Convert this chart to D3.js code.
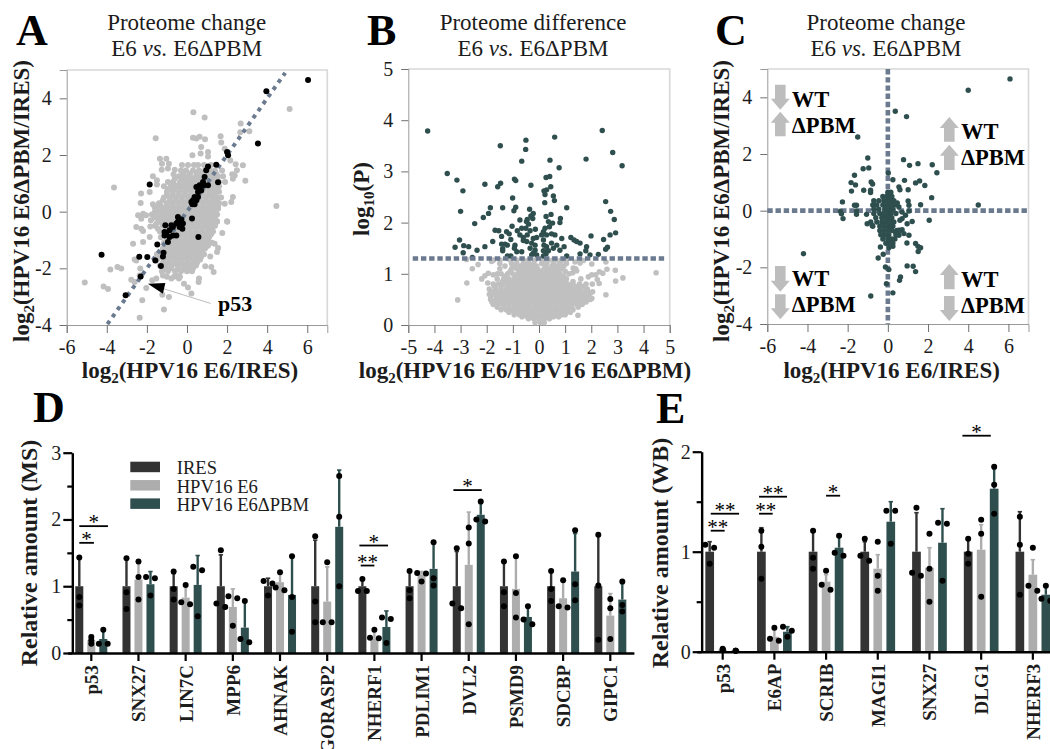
<!doctype html>
<html lang="en">
<head>
<meta charset="UTF-8" />
<title>Proteome change E6 vs. E6ΔPBM</title>
<script src="https://cdn.jsdelivr.net/npm/d3@7"></script>
<style>
  html, body { margin: 0; padding: 0; background: #fff; }
  svg { display: block; font-family: "Liberation Serif", serif; }
</style>
</head>
<body>
<svg id="fig" width="1050" height="749" viewBox="0 0 1050 749"></svg>
<script>
// panel A, [x, y] pairs
var greyOutA = [[.32,3.51],[.88,3.32],[5.12,3.62],[2.68,3.11],[3.11,2.84],[2.66,2.8],[-1.56,2.59],[.3,2.61],[.47,2.58],[.63,2.64],[.9,2.56],[1.68,2.66],[1.71,2.44],[.71,2.28],[1.88,2.22],[.27,1.99],[1.05,2.11],[1.05,1.95],[.68,2.05],[-3.64,.85],[4.46,.2],[2.91,1.09],[2.79,1.64],[2.43,1.67],[2.16,1.81],[-1.35,1.87],[-1.03,1.87],[-1.25,1.69],[-.9,1.69],[-1.26,1.48],[-.95,1.52],[-.61,1.48],[-.67,1.32],[-.61,1.16],[-1.7,1.25],[-1.5,1.11],[-1.5,.96],[-2.29,.64],[-1.86,.69],[-2.31,.31],[-1.7,.26],[-1.61,.16],[-2.44,-.13],[-2.19,-.07],[-2.28,-.25],[-2.04,-.13],[-2.53,-.54],[-2.28,-.6],[2.29,.52],[2.21,.34],[1.88,.28],[1.5,.4],[1.55,.16],[2.01,-.36],[1.5,-.36],[2.38,1.28],[2.49,1.46],[2.29,1.16],[2.26,1.32],[-2.69,-1.13],[-2.19,-.68],[-1.83,-.52],[-1.86,-.89],[-2.19,-1.07],[-2.53,-1.72],[-2.61,-1.69],[-2.33,-2.01],[-3.82,-2.04],[-3.47,-1.95],[-3.28,-2.01],[-2.78,-2.4],[-2.61,-2.48],[-4.16,-2.64],[-3.94,-2.73],[-5.1,-2.5],[-2.23,-3.13],[-1.15,-3.45],[-2.36,-3.74],[-.9,-3.01],[-1.23,-2.93],[.22,-2.89],[.05,-2.68],[-.15,-2.54],[.58,-2.48],[.6,-2.36],[.91,-1.93],[1.21,-1.95],[1.33,-2.13],[1.16,-1.58],[1.38,-1.13],[1.5,-1.42],[1.55,-1.28],[1.76,-.75],[1.5,-.34],[2,-.34],[-2.03,-2.69],[-1.53,-2.36],[-1.73,-2.42],[-2.36,-2.25],[-.78,-2.36],[-1.2,-2.25],[-.53,-2.25],[-.4,-2.36],[0,-2.07],[.13,-2.01]];
var greyRowsA = [
  [1.65,[-.25,.05,.35,.55,.85,1.2]],
  [1.45,[-.3,-.05,.3,.6,.9,1.15,1.4,1.75]],
  [1.35,[-.2,.15,.5,.8,1.1,1.45]],
  [1.25,[-.4,-.1,.15,.45,.7,1,1.25,1.55,1.8]],
  [1.15,[-.25,.05,.35,.65,.95,1.25,1.5]],
  [1.05,[-.95,-.7,-.35,-.05,.25,.55,.8,1.1,1.35,1.6,1.9]],
  [.97,[-.65,-.35,-.05,.25,.55,.85,1.15,1.45]],
  [.9,[-1.15,-.8,-.5,-.2,.1,.4,.7,1,1.3,1.6]],
  [.8,[-.95,-.65,-.35,-.05,.25,.55,.85,1.15,1.45]],
  [.7,[-1,-.7,-.4,-.1,.2,.5,.8,1.1,1.35,1.6]],
  [.6,[-1,-.7,-.4,-.1,.2,.5,.8,1.1,1.4]],
  [.5,[-1.15,-.85,-.55,-.25,.05,.35,.65,.95,1.25,1.5,1.7]],
  [.4,[-1.2,-.85,-.55,-.25,.05,.35,.65,.95,1.25,1.5]],
  [.3,[-1.4,-1,-.7,-.4,-.1,.2,.5,.8,1.1,1.35,1.6]],
  [.2,[-1.3,-1,-.7,-.4,-.1,.2,.5,.8,1.1,1.4]],
  [.1,[-1.5,-1.15,-.85,-.55,-.25,.05,.35,.65,.95,1.25,1.55]],
  [0,[-1.6,-1.3,-1,-.7,-.4,-.1,.2,.5,.8,1.1,1.4]],
  [-.1,[-1.75,-1.45,-1.15,-.85,-.55,-.25,.05,.35,.65,.95,1.25,1.5]],
  [-.2,[-1.6,-1.3,-1,-.7,-.4,-.1,.2,.5,.8,1.1,1.4]],
  [-.3,[-1.8,-1.4,-1.1,-.8,-.5,-.2,.1,.4,.7,1,1.3]],
  [-.4,[-1.5,-1.25,-.95,-.65,-.35,-.05,.25,.55,.85,1.15]],
  [-.5,[-1.6,-1.2,-.9,-.6,-.3,0,.3,.6,.9,1.15,1.4]],
  [-.6,[-1.45,-1.05,-.75,-.45,-.15,.15,.45,.75,1.05,1.25]],
  [-.7,[-1.35,-1.05,-.75,-.45,-.15,.15,.45,.75,1.05,1.3]],
  [-.8,[-1.15,-.85,-.55,-.25,.05,.35,.65,.95,1.2]],
  [-.9,[-1.3,-.95,-.65,-.35,-.05,.25,.55,.85,1.1]],
  [-1,[-1,-.7,-.4,-.1,.2,.5,.8,1.05]],
  [-1.1,[-1.15,-.85,-.55,-.25,.05,.35,.65,.95,1.25]],
  [-1.2,[-1,-.75,-.45,-.15,.15,.45,.75,1.05]],
  [-1.3,[-1.2,-.9,-.6,-.3,0,.3,.6,.9]],
  [-1.4,[-1.05,-.75,-.45,-.15,.15,.45,.75]],
  [-1.5,[-1.5,-1.2,-.9,-.6,-.3,0,.3,.6,.85]],
  [-1.6,[-1.3,-1,-.7,-.4,-.1,.2,.5,.7]],
  [-1.7,[-1.5,-1.15,-.85,-.55,-.25,.05,.35,.65]],
  [-1.8,[-1.2,-.9,-.6,-.3,0,.3,.5]],
  [-1.9,[-1.35,-1.05,-.75,-.45,-.15,.15,.45]],
  [-2,[-1.1,-.8,-.45,-.15,.1,.3]],
  [-2.1,[-1.25,-.95,-.6,-.3,0,.25]],
  [-2.3,[-1,-.65,-.35]]
];
var blackA = [[6.04,4.65],[3.96,4.25],[3.54,2.41],[2,2.11],[2.05,1.99],[1.46,1.66],[1.55,1.04],[1.05,1.59],[.96,1.46],[.88,1.22],[.8,1.05],[1.05,.93],[.63,.93],[.47,.87],[.83,.93],[.71,.75],[.55,.69],[.38,.52],[.55,.52],[.3,.4],[.22,.34],[.47,.4],[.38,.26],[.27,.26],[-1.86,.96],[.25,-.24],[.57,-.89],[-.45,-.19],[-.28,-.28],[-.2,-.42],[-.45,-.36],[-.53,-.42],[-.7,-.54],[-.78,-.48],[-1.08,-.48],[-.87,-.66],[-1.03,-.78],[-1.12,-.84],[-.87,-.89],[-.95,-1.07],[-.7,-.84],[-.53,-.84],[-1.12,-.72],[-.37,-.54],[-.23,-.6],[-1.48,-1.16],[-1.17,-1.45],[-1.2,-1.58],[-1.58,-1.72],[-1.98,-1.6],[-2.38,-1.59],[-4.26,-1.52],[-1.3,-1.92],[-2.31,-2.29],[-3.06,-2.95]];

// panel B
var darkB = [[-4.26,3.79],[2.42,3.8],[.6,3.67],[-.5,3.61],[-1.48,3.5],[-.51,3.43],[2.82,3.37],[-.66,3.2],[.42,3.22],[1.8,3.24],[3.18,3.11],[.77,3.07],[-3.51,2.96],[-3.14,2.83],[-2.91,2.62],[-2.07,2.75],[-1.47,2.77],[-1.58,2.7],[-.94,2.85],[-.89,2.82],[-.31,2.73],[.27,2.88],[.41,2.9],[.45,2.7],[.29,2.64],[.19,2.62],[.23,2.55],[.55,2.52],[.59,2.43],[-1.01,2.48],[.22,2.39],[2.55,2.41],[-3,2.22],[-1.86,2.29],[-1.93,2.18],[-2.13,2.1],[-2.46,1.98],[-1.39,2.29],[-.89,2.3],[-.96,2.23],[-.36,2.26],[-.22,2.18],[-.31,2.13],[-.24,2.08],[-.45,2.06],[-.73,2.05],[-.48,2.02],[-.4,1.97],[.27,2.12],[.46,2.16],[1.06,2.29],[.82,2.08],[.8,2],[.36,2.02],[.52,1.99],[2.74,2.22],[2.88,2.06],[2.93,1.8],[2.72,1.76],[2.47,1.67],[1.99,1.74],[-1.03,1.93],[-1.68,1.85],[-1.54,1.84],[-1.24,1.82],[-1.14,1.78],[-1.43,1.73],[-.83,1.84],[-.66,1.89],[-.5,1.89],[-.34,1.84],[-.14,1.87],[.23,1.89],[.4,1.92],[.17,1.82],[.1,1.76],[.48,1.78],[.61,1.76],[.29,1.76],[-.73,1.76],[-.6,1.71],[-.45,1.76],[-.22,1.69],[-.09,1.71],[-1.08,1.67],[-1.77,1.63],[-3.04,1.66],[.87,1.69],[1.22,1.71],[1.34,1.66],[1.44,1.63],[1.57,1.6],[-3.21,1.52],[-2.88,1.55],[-2.69,1.53],[-2.9,1.41],[-2.37,1.46],[-2.07,1.53],[-2.55,1.32],[-1.43,1.58],[-1.3,1.58],[-1.39,1.49],[-1.39,1.45],[-1.21,1.56],[-.92,1.56],[-.94,1.5],[-.85,1.43],[-.66,1.43],[-.6,1.65],[-.47,1.63],[-.28,1.6],[-.15,1.56],[-.34,1.5],[-.15,1.46],[-.22,1.4],[-.28,1.37],[-.09,1.37],[.17,1.66],[.19,1.56],[.29,1.53],[.17,1.45],[.36,1.45],[.27,1.39],[.17,1.35],[.48,1.6],[.55,1.5],[.68,1.56],[.8,1.46],[.96,1.53],[1.06,1.35],[1.57,1.39],[1.82,1.53],[1.79,1.45],[1.95,1.37],[2.27,1.38],[2.55,1.48],[2.62,1.52],[-1.21,1.35],[-1.08,1.35]];
var greyOutB = [[-3.11,.49],[-2.76,.82],[-2.55,1.1],[-2.33,1.18],[-2.77,1.28],[4.48,1.02],[3.21,.92],[2.93,.86],[2.92,1.07],[2.56,.59],[1.49,.19],[2.56,1.23],[2.6,1.09],[2.44,1.01],[2.31,1.04],[2.17,.98],[2.3,.81],[2.23,.89],[2.02,.98],[2.04,.8],[1.89,.94],[2.05,.65],[2.02,.52],[1.95,.62],[-2.19,.9],[-2.07,.96],[-1.94,1.01],[-1.75,.98],[-1.59,1],[-1.96,.82],[-1.81,1.24],[-1.74,1.27],[-1.49,1.27],[-1.21,1.3],[1.29,1.02],[1.44,1.06],[1.31,1.11],[1.7,1.26],[1.38,1.23],[1.57,1.21],[2.02,1.19],[.93,1.27],[1.06,1.28],[.53,1.27]];
var greyRowsB = [
  [.05,[-.15,.05,.2]],
  [.12,[-.4,-.2,0,.2,.4]],
  [.16,[-.65,-.45,-.25,-.05,.15,.35,.55,.75]],
  [.2,[-.95,-.75,-.55,-.35,-.15,.05,.25,.45,.65,.85,1]],
  [.25,[-1.15,-.95,-.75,-.55,-.35,-.15,.05,.25,.45,.65,.85,1.05,1.2]],
  [.3,[-1.45,-1.25,-1.05,-.85,-.65,-.45,-.25,-.05,.15,.35,.55,.75,.95,1.15,1.3]],
  [.35,[-1.6,-1.35,-1.15,-.95,-.75,-.55,-.35,-.15,.05,.25,.45,.65,.85,1.05,1.25,1.5]],
  [.4,[-1.75,-1.55,-1.35,-1.15,-.95,-.75,-.55,-.35,-.15,.05,.25,.45,.65,.85,1.05,1.25,1.45,1.65]],
  [.45,[-1.8,-1.6,-1.4,-1.2,-1,-.8,-.6,-.4,-.2,0,.2,.4,.6,.8,1,1.2,1.4,1.6,1.8]],
  [.5,[-1.85,-1.65,-1.45,-1.25,-1.05,-.85,-.65,-.45,-.25,-.05,.15,.35,.55,.75,.95,1.15,1.35,1.55,1.75,1.95]],
  [.55,[-1.85,-1.6,-1.4,-1.2,-1,-.8,-.6,-.4,-.2,0,.2,.4,.6,.8,1,1.2,1.4,1.6,1.8]],
  [.6,[-1.9,-1.7,-1.5,-1.3,-1.1,-.9,-.7,-.5,-.3,-.1,.1,.3,.5,.7,.9,1.1,1.3,1.5,1.7,1.9]],
  [.65,[-1.8,-1.6,-1.4,-1.2,-1,-.8,-.6,-.4,-.2,0,.2,.4,.6,.8,1,1.2,1.4,1.6,1.75]],
  [.7,[-1.9,-1.65,-1.45,-1.25,-1.05,-.85,-.65,-.45,-.25,-.05,.15,.35,.55,.75,.95,1.15,1.35,1.55,1.85]],
  [.75,[-1.7,-1.45,-1.2,-1,-.8,-.6,-.4,-.2,0,.2,.4,.6,.8,1,1.2,1.45,1.7]],
  [.8,[-1.75,-1.55,-1.3,-1.1,-.9,-.7,-.5,-.3,-.1,.1,.3,.5,.7,.9,1.1,1.3,1.55,1.8]],
  [.85,[-1.4,-1.2,-1,-.8,-.6,-.4,-.2,0,.2,.4,.6,.8,1,1.3]],
  [.9,[-1.6,-1.35,-1.15,-.95,-.75,-.55,-.35,-.15,.05,.25,.45,.65,.85,1.05,1.6]],
  [.95,[-1.3,-.9,-.7,-.5,-.3,-.1,.1,.3,.5,.7,.95]],
  [1,[-1.45,-1.2,-1,-.8,-.6,-.4,-.2,0,.2,.4,.6,.8,1.15]],
  [1.05,[-1.1,-.75,-.55,-.35,-.15,.05,.3,.5,.75,1]],
  [1.1,[-1.5,-1.05,-.85,-.65,-.45,-.25,-.05,.2,.4,.6,.85,1.4]],
  [1.15,[-1.3,-.95,-.7,-.5,-.3,-.1,.25,.5,.7,.95]],
  [1.2,[-1.5,-1.05,-.85,-.6,-.4,-.2,.1,.3,.55,.8,1.05]],
  [1.27,[-1.1,-.85,-.6,-.4,-.15,.15,.35,.65,.85]]
];

// panel C
var dotsC = [[6.08,4.65],[4,4.25],[.37,3.51],[.93,3.32],[-1.5,2.6],[4.5,.2],[-4.2,-1.52],[-.85,-3.01],[.25,-2.9],[-.07,-2.58],[-1,1.86],[-1.23,1.48],[-.95,1.51],[-1.66,1.25],[-1.83,.99],[-1.61,.91],[-1.81,.69],[-1.2,.72],[-.83,1.01],[-.76,.94],[-.86,.72],[-.86,.64],[-2.26,.31],[-2.36,-.02],[-2.31,-.11],[-2.23,-.28],[-1.66,.19],[-1.56,.19],[-1.56,-.01],[-1.56,-.13],[-1.06,-.13],[-1.03,-.46],[-.78,-.52],[.78,1.8],[1.08,1.6],[1.5,1.66],[2.21,1.62],[2.44,1.34],[.02,1.33],[.25,1.09],[.83,1.07],[1.38,.98],[1.58,1.05],[1.84,.89],[1.01,.74],[.55,.84],[.6,.74],[2.18,.46],[1.63,.21],[2.06,-.34],[1.21,-.38],[.96,-.46],[1.01,.34],[1.05,.19],[1.05,-.01],[.47,.27],[.55,.13],[.71,-.05],[.88,-.16],[.71,-.28],[.6,-.34],[-.37,-1.28],[-.48,-1.67],[-.23,-1.54],[.25,-1.26],[.05,-1.31],[.95,-1.14],[1.38,-1.16],[1.5,-1.26],[1.63,-1.31],[1.51,-1.44],[.96,-1.95],[1.26,-1.96],[1.38,-2.15],[-.12,-1.99],[.05,-2.08],[.63,-2.34],[.58,-2.46],[1.05,-.87],[.8,-.81],[.71,-.67],[.55,-.87],[.55,-.69],[.38,-.75]];
var coreRowsC = [
  [.65,[0,.15]],
  [.5,[-.25,-.05,.1,.2]],
  [.35,[-.7,-.45,-.2,0,.2,.3]],
  [.2,[-.75,-.55,-.25,-.05,.15,.35]],
  [.05,[-.7,-.45,-.15,.05,.25]],
  [-.1,[-.7,-.4,-.2,0,.15,.4]],
  [-.25,[-.6,-.3,-.1,.05,.2]],
  [-.4,[-.85,-.55,-.3,-.1,.1,.3]],
  [-.55,[-.75,-.4,-.2,0,.15,.25]],
  [-.7,[-.4,-.2,0,.2,.45,.6]],
  [-.85,[-.35,-.15,.05,.4]],
  [-1,[-.25,0,.2,.35]],
  [-1.15,[-.1,.1,.25]]
];

// panel D, each group: mean, error top, three points, per series
var seriesNames = ["IRES", "HPV16 E6", "HPV16 E6ΔPBM"];
var seriesColors = ["#333333", "#adadad", "#2f4f4f"];

var genesD = ["p53","SNX27","LIN7C","MPP6","AHNAK","GORASP2","NHERF1","PDLIM1","DVL2","PSMD9","SDCBP","GIPC1"];
var meansD = [
  [1,.19,.21],[1,1.1,1.03],[1,.83,1.02],[1,.69,.38],[1,1.06,.87],[1,.77,1.89],
  [1,.22,.39],[1,1.18,1.26],[1,1.32,2.07],[1,.96,.54],[1,.82,1.22],[1,.56,.8]
];
var errTopD = [
  [1.43,.27,.35],[1.42,1.34,1.22],[1.19,1.02,1.46],[1.47,.96,.77],[1.12,1.19,1.46],[1.69,1.29,2.74],
  [1.09,.32,.63],[1.22,1.22,1.64],[1.52,2.11,2.24],[1.37,1.44,.72],[1.24,1.09,1.79],[1.77,.89,1.04]
];
var pointsD = [
  [[1.43,.84,.71],[.24,.19,.14],[.35,.14,.14]],
  [[1.42,.91,.66],[1.37,1.14,.8],[1.14,1.12,.86]],
  [[1.22,.96,.8],[1.02,.76,.73],[1.29,1.24,.55]],
  [[1.54,.74,.69],[.85,.82,.41],[.78,.21,.16]],
  [[1.08,1.04,.86],[1.21,.98,.94],[1.45,.84,.32]],
  [[1.75,.77,.46],[1.36,.46,.46],[2.65,2.04,1]],
  [[1.11,.93,.93],[.35,.23,.22],[.53,.51,.15]],
  [[1.23,.94,.82],[1.2,1.19,1.07],[1.66,1.12,1.01]],
  [[1.57,.74,.67],[1.88,1.64,.43],[2.27,2,1.97]],
  [[1.37,.91,.7],[1.45,.9,.53],[.7,.5,.43]],
  [[1.23,.96,.78],[1.09,.7,.68],[1.84,1.03,.79]],
  [[1.77,1.01,.2],[.81,.67,.21],[1.07,.72,.62]]
];
// significance bars: gene, start slot, end slot (in bar widths from group centre), height, stars
var sigD = [
  ["p53",-1,.22,1.65,"*"],["p53",-1,1.39,1.9,"*"],
  ["NHERF1",-1.14,0,1.31,"**"],["NHERF1",-1.25,1.14,1.61,"*"],
  ["DVL2",-1.28,1.08,2.44,"*"]
];

// panel E
var genesE = ["p53","E6AP","SCRIB","MAGI1","SNX27","DLG1","NHERF3"];
var meansE = [[1,.02,.01],[1,.15,.2],[1,.7,1.04],[1,.83,1.3],[1,.84,1.09],[1,1.02,1.63],[1,.77,.57]];
var errTopE = [[1.1,.03,.01],[1.24,.22,.25],[1.2,.77,1.15],[1.1,.97,1.5],[1.39,1.04,1.43],[1.12,1.27,1.83],[1.4,.92,.67]];
var pointsE = [
  [[1.07,1.04,.88],[.03,.02,.02],[.01,.01,.01]],
  [[1.21,1.05,.73],[.24,.13,.11],[.25,.21,.15]],
  [[1.21,.94,.83],[.81,.67,.62],[1.16,.99,.96]],
  [[1.13,.96,.91],[1.1,.76,.61],[1.41,1.41,1.08]],
  [[1.44,.79,.76],[1.18,.83,.5],[1.29,1.28,.71]],
  [[1.13,.98,.88],[1.32,1.18,.55],[1.85,1.67,1.38]],
  [[1.35,1.07,.57],[1.04,.66,.61],[.66,.53,.51]]
];
var sigE = [
  ["p53",-.92,.15,1.21,"**"],["p53",-.92,1.26,1.38,"**"],
  ["E6AP",-1.18,-.13,1.38,"**"],["E6AP",-1.18,.97,1.55,"**"],
  ["SCRIB",0,1.08,1.56,"*"],
  ["DLG1",-1.44,.74,2.16,"*"]
];

var ticksA = [-6,-4,-2,0,2,4,6];
var ticksAy = [-4,-2,0,2,4];
var ticksBx = [-5,-4,-3,-2,-1,0,1,2,3,4,5];
var ticksBy = [0,1,2,3,4,5];

var DASH = "#6b7a8f", GREY = "#bfbfbf", GREEN = "#2f4f4f", INK = "#1c1c1c";
var svg = d3.select("#fig");

function fromRows(rows) {
  var out = [];
  rows.forEach(function (r) { r[1].forEach(function (x) { out.push([x, r[0]]); }); });
  return out;
}

function drawFrame(x, y, xt, yt) {
  var g = svg.append("g");
  g.append("path")
    .attr("d", "M" + x.range()[0] + "," + y.range()[1] + "H" + x.range()[1] + "V" + y.range()[0])
    .attr("fill", "none").attr("stroke", "#d8d8d8").attr("stroke-width", 1.6);
  var ax = g.append("g").attr("transform", "translate(0," + y.range()[0] + ")")
    .call(d3.axisBottom(x).tickValues(xt).tickSize(8).tickPadding(7).tickFormat(String));
  var ay = g.append("g").attr("transform", "translate(" + x.range()[0] + ",0)")
    .call(d3.axisLeft(y).tickValues(yt).tickSize(7).tickPadding(8).tickFormat(String));
  [ax, ay].forEach(function (a) {
    a.selectAll("path").attr("stroke", "#9a9a9a");
    a.selectAll("line").attr("stroke", "#707070");
    a.selectAll("text").attr("font-family", "Liberation Serif").attr("font-size", 20).attr("fill", INK);
  });
}

function dots(data, x, y, r, color) {
  svg.append("g").selectAll("circle").data(data).join("circle")
    .attr("cx", function (d) { return x(d[0]); })
    .attr("cy", function (d) { return y(d[1]); })
    .attr("r", r).attr("fill", color);
}

function dashLine(x, y, a, b, w, dash) {
  svg.append("line")
    .attr("x1", x(a[0])).attr("y1", y(a[1])).attr("x2", x(b[0])).attr("y2", y(b[1]))
    .attr("stroke", DASH).attr("stroke-width", w).attr("stroke-dasharray", dash);
}

function title(cx, first) {
  var t = svg.append("g").attr("text-anchor", "middle").attr("font-size", 23).attr("fill", INK);
  t.append("text").attr("x", cx).attr("y", 30).text(first);
  var l = t.append("text").attr("x", cx).attr("y", 56);
  l.append("tspan").text("E6 ");
  l.append("tspan").attr("font-style", "italic").text("vs.");
  l.append("tspan").text(" E6ΔPBM");
}

function letter(s, x, y) {
  svg.append("text").attr("x", x).attr("y", y).attr("font-size", 44).attr("font-weight", "bold")
    .attr("fill", "#000").text(s);
}

// bold axis title with a subscript; rotated when rot is set
function logLabel(x, y, base, sub, rest, rot) {
  var t = svg.append("text").attr("text-anchor", "middle").attr("font-size", 23)
    .attr("font-weight", "bold").attr("fill", INK);
  if (rot) t.attr("transform", "translate(" + x + "," + y + ") rotate(-90)");
  else t.attr("x", x).attr("y", y);
  t.append("tspan").text(base);
  t.append("tspan").attr("font-size", 15).attr("dy", 5).text(sub);
  t.append("tspan").attr("dy", -5).text(rest);
}

// ---- A ----
var xA = d3.scaleLinear().domain([-6, 7]).range([66.7, 327.3]);
var yA = d3.scaleLinear().domain([-4, 5]).range([325, 70]);
title(186.7, "Proteome change");
letter("A", 16, 45);
drawFrame(xA, yA, ticksA, ticksAy);
dots(greyOutA.concat(fromRows(greyRowsA)), xA, yA, 3, GREY);
dashLine(xA, yA, [-3.97, -3.97], [4.9, 4.9], 4, "4 4.7");
dots(blackA, xA, yA, 3, "#000");
logLabel(190, 378, "log", "2", "(HPV16 E6/IRES)");
logLabel(28.5, 201, "log", "2", "(HPV16 E6ΔPBM/IRES)", true);
// p53 callout
svg.append("line").attr("x1", xA(-1.21)).attr("y1", yA(-2.71)).attr("x2", xA(1.18)).attr("y2", yA(-3.24))
  .attr("stroke", "#bdbdbd").attr("stroke-width", 1);
svg.append("path")
  .attr("d", d3.line()([[xA(-1.95), yA(-2.54)], [xA(-1.08), yA(-2.52)], [xA(-1.2), yA(-2.9)]]) + "Z")
  .attr("fill", "#000");
svg.append("text").attr("x", 218).attr("y", 311).attr("font-size", 22).attr("font-weight", "bold").attr("fill", "#000").text("p53");

// ---- B ----
var xB = d3.scaleLinear().domain([-5, 5]).range([408.3, 669.7]);
var yB = d3.scaleLinear().domain([0, 5]).range([325, 69]);
title(533, "Proteome difference");
letter("B", 367, 45);
drawFrame(xB, yB, ticksBx, ticksBy);
dots(greyOutB.concat(fromRows(greyRowsB)), xB, yB, 2.8, "#c0c0c0");
dots(darkB, xB, yB, 2.7, GREEN);
dashLine(xB, yB, [-4.83, 1.3], [4.83, 1.3], 4.6, "5.4 2.8");
logLabel(525, 378, "log", "2", "(HPV16 E6/HPV16 E6ΔPBM)");
logLabel(369.3, 199, "log", "10", "(P)", true);

// ---- C ----
var xC = d3.scaleLinear().domain([-6, 7]).range([767.3, 1028.5]);
var yC = d3.scaleLinear().domain([-4, 5]).range([324, 69]);
title(886, "Proteome change");
letter("C", 715, 45);
drawFrame(xC, yC, ticksA, ticksAy);
dashLine(xC, yC, [-6, 0], [7, 0], 4.6, "5.4 2.8");
dashLine(xC, yC, [0, 5], [0, -4], 4.6, "5.4 2.8");
dots(dotsC.concat(fromRows(coreRowsC)), xC, yC, 2.7, GREEN);
logLabel(891.7, 378, "log", "2", "(HPV16 E6/IRES)");
logLabel(729.3, 201, "log", "2", "(HPV16 E6ΔPBM/IRES)", true);

// block arrows for the four quadrants
function blockArrow(cx, top, bottom, up) {
  var hw = 9.5, sw = 5.3, head = 11;
  var pts = up
    ? [[cx, top], [cx + hw, top + head], [cx + sw, top + head], [cx + sw, bottom], [cx - sw, bottom], [cx - sw, top + head], [cx - hw, top + head]]
    : [[cx, bottom], [cx + hw, bottom - head], [cx + sw, bottom - head], [cx + sw, top], [cx - sw, top], [cx - sw, bottom - head], [cx - hw, bottom - head]];
  svg.append("path").attr("d", d3.line()(pts) + "Z").attr("fill", "#bdbdbd");
}
function quadLabel(cx, tx, a1, a2, up1, b1, b2, up2, base1, base2) {
  blockArrow(cx, a1, a2, up1);
  blockArrow(cx, b1, b2, up2);
  var g = svg.append("g").attr("font-size", 22.5).attr("font-weight", "bold").attr("fill", "#000");
  g.append("text").attr("x", tx).attr("y", base1).text("WT");
  g.append("text").attr("x", tx).attr("y", base2).text("ΔPBM");
}
quadLabel(780.3, 791.7, 84.7, 109.7, false, 111.7, 136.3, true, 106.7, 132.7);
quadLabel(949.3, 961, 117, 141.7, true, 144.7, 170, true, 139.3, 165.3);
quadLabel(780.3, 791.7, 266, 291.7, false, 294.3, 319.3, false, 285.7, 311.7);
quadLabel(949.3, 961, 264, 289.3, true, 296, 321, false, 286.7, 312.7);

// ---- bars D and E ----
// spread near-equal values sideways so dots sit next to each other
function swarmOffsets(vals, near, d) {
  var off = [0, 0, 0];
  if (Math.abs(vals[0] - vals[2]) < near * 1.3) return off;
  if (Math.abs(vals[0] - vals[1]) < near) { off[0] = -d; off[1] = d; }
  else if (Math.abs(vals[1] - vals[2]) < near) { off[1] = -d; off[2] = d; }
  return off;
}

function barPanel(o) {
  var x = d3.scaleBand().domain(o.genes).range(o.xr);
  var y = d3.scaleLinear().domain(o.yd).range(o.yr);
  var g = svg.append("g");

  o.genes.forEach(function (gene, i) {
    var cx = x(gene) + x.bandwidth() / 2;
    seriesNames.forEach(function (s, j) {
      var bx = cx + (j - 1) * o.slot;
      g.append("rect").attr("x", bx - o.bw / 2).attr("y", y(o.means[i][j]))
        .attr("width", o.bw).attr("height", y(0) - y(o.means[i][j])).attr("fill", seriesColors[j]);
      g.append("line").attr("x1", bx).attr("x2", bx).attr("y1", y(o.means[i][j])).attr("y2", y(o.errTop[i][j]))
        .attr("stroke", seriesColors[j]).attr("stroke-width", 2.4);
      g.append("line").attr("x1", bx - 2.2).attr("x2", bx + 2.2).attr("y1", y(o.errTop[i][j])).attr("y2", y(o.errTop[i][j]))
        .attr("stroke", seriesColors[j]).attr("stroke-width", 1.6);
      var vals = o.points[i][j];
      var off = swarmOffsets(vals, o.near, 4.4);
      vals.forEach(function (v, k) {
        g.append("circle").attr("cx", bx + off[k]).attr("cy", y(v)).attr("r", 3).attr("fill", "#000");
      });
    });
  });

  o.sig.forEach(function (s) {
    var cx = x(s[0]) + x.bandwidth() / 2;
    var x1 = cx + s[1] * o.slot, x2 = cx + s[2] * o.slot;
    g.append("line").attr("x1", x1).attr("x2", x2).attr("y1", y(s[3])).attr("y2", y(s[3]))
      .attr("stroke", "#000").attr("stroke-width", 1.8);
    g.append("text").attr("x", (x1 + x2) / 2).attr("y", y(s[3]) + 3).attr("text-anchor", "middle")
      .attr("font-size", 21).attr("fill", "#000").text(s[4]);
  });

  var ax = svg.append("g").attr("transform", "translate(0," + y(0) + ")")
    .call(d3.axisBottom(x).tickSize(8).tickSizeOuter(0));
  ax.select(".domain").attr("stroke", "#000").attr("stroke-width", 2.4);
  ax.selectAll("line").attr("stroke", "#000").attr("stroke-width", 2.2);
  ax.selectAll("text")
    .attr("transform", "rotate(-90)").attr("text-anchor", "end")
    .attr("x", -12).attr("y", 7).attr("dy", 0)
    .style("font-family", "Liberation Serif").style("font-size", "19px").style("font-weight", "bold").attr("fill", INK);

  var axX = x.range()[0] + o.axisShift;
  var minor = svg.append("g").attr("transform", "translate(" + axX + ",0)")
    .call(d3.axisLeft(y).tickValues(o.minorTicks).tickSize(5).tickFormat(""));
  minor.select(".domain").remove();
  minor.selectAll("line").attr("stroke", "#000").attr("stroke-width", 2.2);
  var ay = svg.append("g").attr("transform", "translate(" + axX + ",0)")
    .call(d3.axisLeft(y).tickValues(o.majorTicks).tickSize(9).tickSizeOuter(0).tickPadding(2).tickFormat(String));
  ay.select(".domain").attr("stroke", "#000").attr("stroke-width", 2.4);
  ay.selectAll("line").attr("stroke", "#000").attr("stroke-width", 2.2);
  ay.selectAll("text").attr("font-family", "Liberation Serif").attr("font-size", 20).attr("fill", INK);
}

barPanel({
  genes: genesD, means: meansD, errTop: errTopD, points: pointsD, sig: sigD,
  xr: [67.7, 633.9], yd: [0, 3], yr: [653, 452.7], slot: 12, bw: 8, near: .09, axisShift: 4.6,
  majorTicks: [0, 1, 2, 3], minorTicks: [.5, 1.5, 2.5]
});
barPanel({
  genes: genesE, means: meansE, errTop: errTopE, points: pointsE, sig: sigE,
  xr: [696.85, 1058.7], yd: [0, 2], yr: [651.7, 451.7], slot: 13, bw: 8.7, near: .06, axisShift: 4.8,
  majorTicks: [0, 1, 2], minorTicks: [.5, 1.5]
});

letter("D", 33, 422);
letter("E", 656, 423);

function yTitle(x, text) {
  svg.append("text").attr("transform", "translate(" + x + ",553) rotate(-90)").attr("text-anchor", "middle")
    .attr("font-size", 24).attr("font-weight", "bold").attr("fill", INK).text(text);
}
yTitle(37, "Relative amount (MS)");
yTitle(668.3, "Relative amount (WB)");

// legend
var legend = svg.append("g");
seriesNames.forEach(function (s, i) {
  legend.append("rect").attr("x", 130.3).attr("y", 461.7 + i * 18.35).attr("width", 29.7).attr("height", 10.5).attr("fill", seriesColors[i]);
  legend.append("text").attr("x", 176.7).attr("y", 474.3 + i * 18.35).attr("font-size", 18.6).attr("fill", INK).text(s);
});
</script>
</body>
</html>
